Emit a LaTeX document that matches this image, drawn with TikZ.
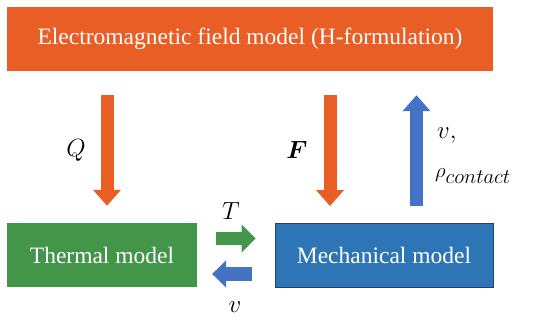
\documentclass[tikz,border=0pt]{standalone}
\usepackage{fontspec}
\setmainfont{Liberation Serif}
\usepackage{amsmath}
\usetikzlibrary{arrows.meta,calc}
\definecolor{emorange}{RGB}{233,94,37}
\definecolor{thgreen} {RGB}{67,149,74}
\definecolor{mechblue}{RGB}{46,117,182}
\definecolor{mechedge}{RGB}{36,64,110}
\definecolor{arrblue} {RGB}{68,114,196}
\definecolor{arrgreen}{RGB}{67,150,74}
\tikzset{
  modelbox/.style={minimum height=64pt, inner sep=0pt, text=white,
                   font=\fontsize{23.5}{28}\selectfont},
  embox/.style  ={modelbox, fill=emorange, minimum width=486pt},
  thbox/.style  ={modelbox, fill=thgreen,  minimum width=190pt},
  mechbox/.style={modelbox, fill=mechblue, draw=mechedge, line width=0.8pt,
                  minimum width=218pt},
  vert/.style   ={line width=13pt, -{Triangle[width=27pt,length=16pt]}},
  side/.style   ={line width=13.5pt, -{Triangle[width=27pt,length=14pt]}},
  lab/.style    ={inner sep=0pt, font=\fontsize{24}{28}\selectfont},
}
\begin{document}
\begin{tikzpicture}[x=1pt,y=-1pt]
  \useasboundingbox (0,0) rectangle (550,323);
  % model boxes
  \node[embox]   (em)   at (250,39)    {Electromagnetic field model (H-formulation)};
  \node[thbox]   (th)   at (102,255)   {Thermal model};
  \node[mechbox] (mech) at (384,255.5) {Mechanical model};
  % arrow positions
  \coordinate (qx) at (107,0);
  \coordinate (fx) at (330,0);
  \coordinate (vx) at (416.5,0);
  \coordinate (ty) at (0,238.5);
  \coordinate (vy) at (0,274);
  % couplings
  \draw[vert, emorange, shorten <=24pt, shorten >=17pt] (em.south -| qx) -- (th.north -| qx);
  \draw[vert, emorange, shorten <=24pt, shorten >=17pt] (em.south -| fx) -- (mech.north -| fx);
  \draw[vert, arrblue,  shorten <=17pt, shorten >=24pt] (mech.north -| vx) -- (em.south -| vx);
  \draw[side, arrgreen, shorten <=19pt, shorten >=19pt] (th.east |- ty) -- (mech.west |- ty);
  \draw[side, arrblue,  shorten <=23pt, shorten >=15pt] (mech.west |- vy) -- (th.east |- vy);
  % labels
  \node[lab] (qlab) at (76,150)  {$Q$};
  \node[lab] (flab) at (297,150) {$\boldsymbol{F}$};
  \node[lab] (tlab) at (231,211) {$T$};
  \node[lab] (vlab) at (235,307) {$v$};
  \node[lab, anchor=west] (vrlab) at (437,136) {$v,$};
  \node[lab, anchor=west, font=\fontsize{20}{24}\selectfont] (rholab) at (435,176)
    {$\rho_{\textstyle contact}$};
\end{tikzpicture}
\end{document}
